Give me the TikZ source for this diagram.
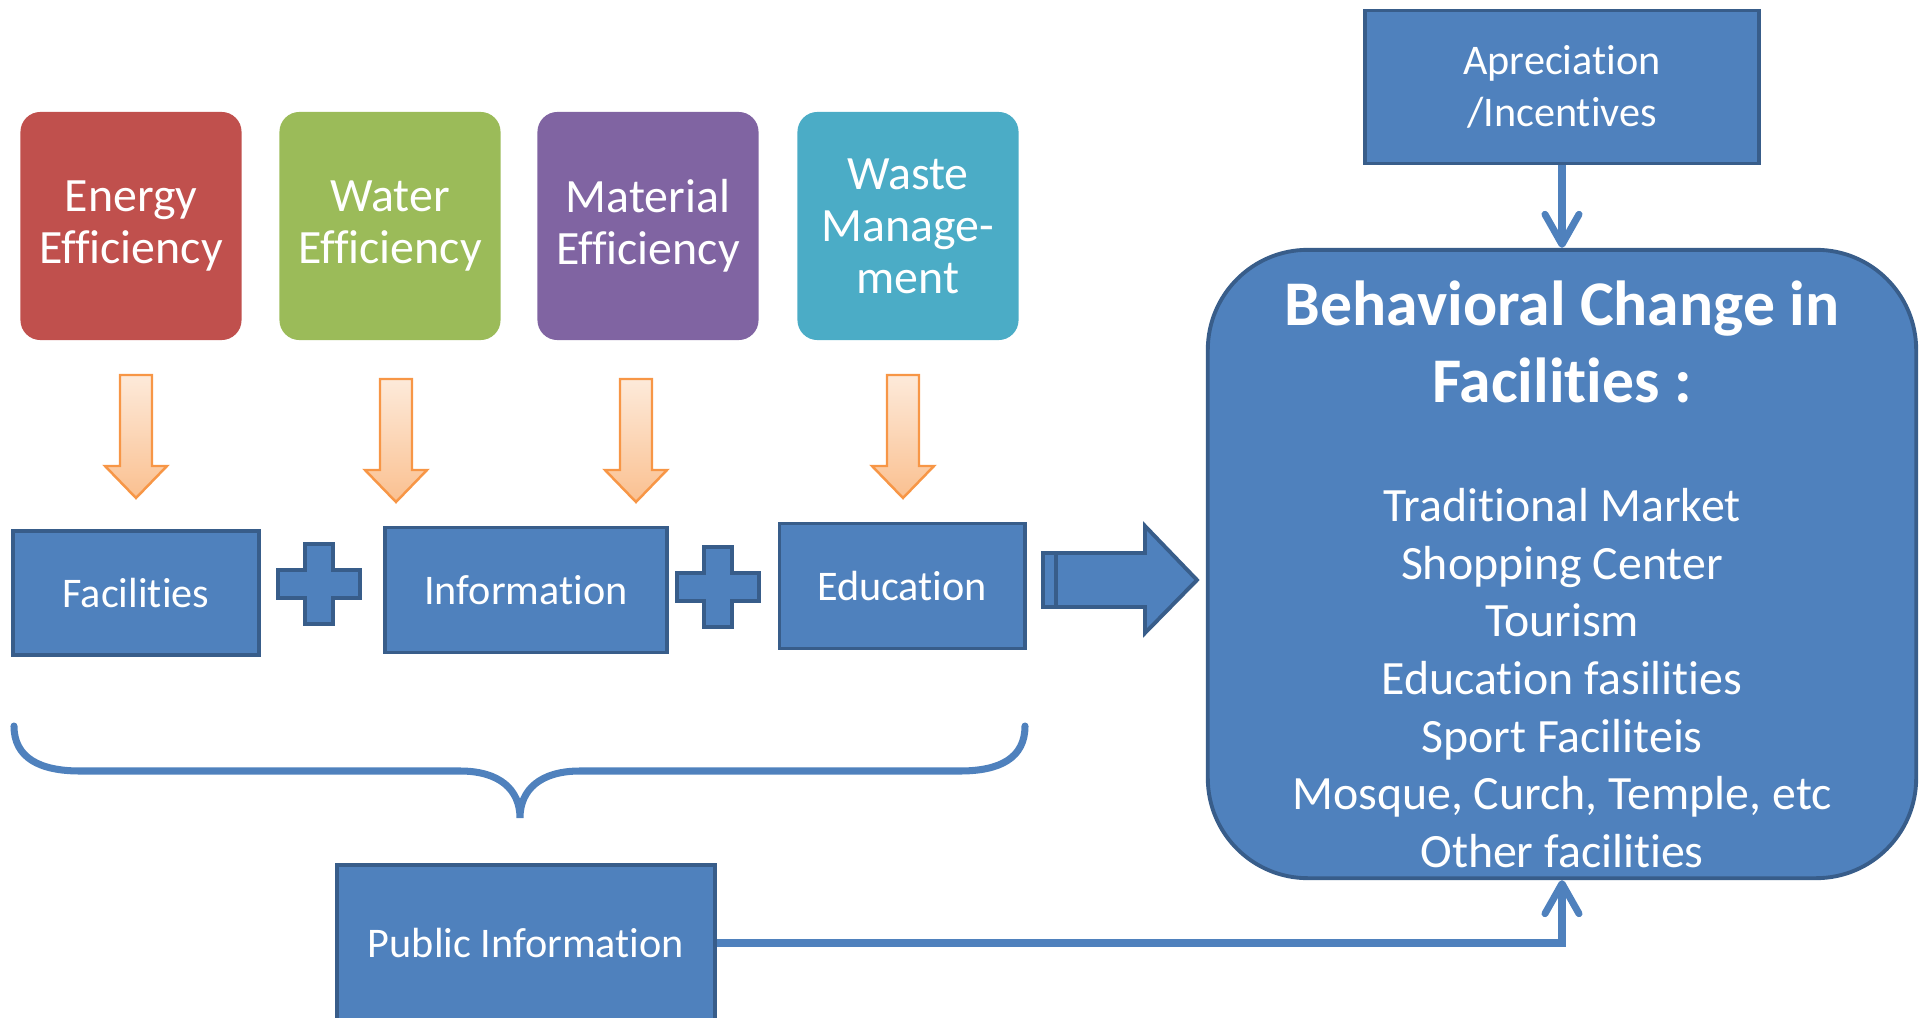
\documentclass[tikz,border=0pt]{standalone}
\usepackage{fontspec}
\setmainfont{Carlito}[Ligatures=CommonOff]
\usepackage{tikz}
\usetikzlibrary{arrows.meta}
\definecolor{energy-red}{HTML}{C0504D}
\definecolor{water-green}{HTML}{9BBB59}
\definecolor{material-purple}{HTML}{8064A2}
\definecolor{waste-aqua}{HTML}{4BACC6}
\definecolor{box-blue}{HTML}{4F81BD}
\definecolor{box-border}{HTML}{385D8A}
\definecolor{arrow-orange}{HTML}{F79646}
\definecolor{arrow-light}{HTML}{FDEADA}
\definecolor{arrow-dark}{HTML}{FAC090}
\tikzset{
    color-box/.style = {fill=#1, rectangle, rounded corners=0.2cm, minimum width=2.21cm, minimum height=2.28cm, text=white, align=center, font=\fontsize{13.6}{14.8}\selectfont},
    blue-box/.style = {draw=box-border, fill=box-blue, line width=1.1pt, rectangle, text=white, align=center, font=\fontsize{12}{14.8}\selectfont},
    down-arrow/.style = {draw=arrow-orange, line width=0.7pt, top color=arrow-light, bottom color=arrow-dark},
    plus-sign/.style = {draw=box-border, fill=box-blue, line width=1.1pt},
    link/.style = {draw=box-blue, line width=2pt, -{Straight Barb[round, length=3mm, width=3.4mm]}},
}

\begin{document}
\begin{tikzpicture}[x=0.01cm, y=-0.01cm]
\useasboundingbox (0,0) rectangle (1923,1018);

\node[color-box=energy-red] (energy) at (131,226) {Energy\\Efficiency};
\node[color-box=water-green] (water) at (390,226) {Water\\Efficiency};
\node[color-box=material-purple] (material) at (648,226) {Material\\Efficiency};
\node[color-box=waste-aqua] (waste) at (908,226) {Waste\\Manage-\\ment};

\foreach \ax/\ay in {136/375, 396/379, 636/379, 903/375}
    \draw[down-arrow] (\ax-16,\ay) -- (\ax+16,\ay) -- (\ax+16,\ay+91) -- (\ax+31,\ay+91) -- (\ax,\ay+123) -- (\ax-31,\ay+91) -- (\ax-16,\ay+91) -- cycle;

\node[blue-box, minimum width=2.45cm, minimum height=1.24cm] (facilities) at (136,593) {Facilities};
\node[blue-box, minimum width=2.82cm, minimum height=1.25cm] (information) at (526,590) {Information};
\node[blue-box, minimum width=2.45cm, minimum height=1.25cm] (education) at (902,586) {Education};

\foreach \px/\py in {319/584, 718/587}
    \draw[plus-sign] (\px-14,\py-40) -- (\px+14,\py-40) -- (\px+14,\py-14) -- (\px+41,\py-14) -- (\px+41,\py+14) -- (\px+14,\py+14) -- (\px+14,\py+40) -- (\px-14,\py+40) -- (\px-14,\py+14) -- (\px-41,\py+14) -- (\px-41,\py-14) -- (\px-14,\py-14) -- cycle;

\draw[plus-sign] (1043,553) rectangle (1056,607);
\draw[plus-sign] (1056,553) -- (1145,553) -- (1145,526) -- (1197,580) -- (1145,633) -- (1145,607) -- (1056,607) -- cycle;

\draw[box-blue, line width=2pt, line cap=round] (14,726) .. controls (14,758) and (40,771) .. (80,771) -- (460,771) .. controls (500,771) and (520,790) .. (520,818) .. controls (520,790) and (540,771) .. (580,771) -- (960,771) .. controls (1000,771) and (1025,758) .. (1025,726);

\node[blue-box, minimum width=3.78cm, minimum height=1.56cm] (pubinfo) at (526,943) {Public Information};
\node[blue-box, minimum width=3.93cm, minimum height=1.53cm] (apreciation) at (1562,87) {Apreciation\\/Incentives};

\node[blue-box, rounded corners=1cm, minimum width=7.08cm, minimum height=6.28cm] (behavior) at (1562,564) {};
\node[text=white, align=center, font=\fontsize{18.1}{21.9}\selectfont\bfseries] (title) at (1562,342) {Behavioral Change in\\Facilities :};
\node[text=white, align=center, font=\fontsize{13.6}{16.4}\selectfont] (places) at (1562,678) {Traditional Market\\Shopping Center\\Tourism\\Education fasilities\\Sport Faciliteis\\Mosque, Curch, Temple, etc\\Other facilities};

\draw[link] (apreciation) -- (behavior.north);
\draw[link] (pubinfo) -| (behavior.south);
\end{tikzpicture}
\end{document}
